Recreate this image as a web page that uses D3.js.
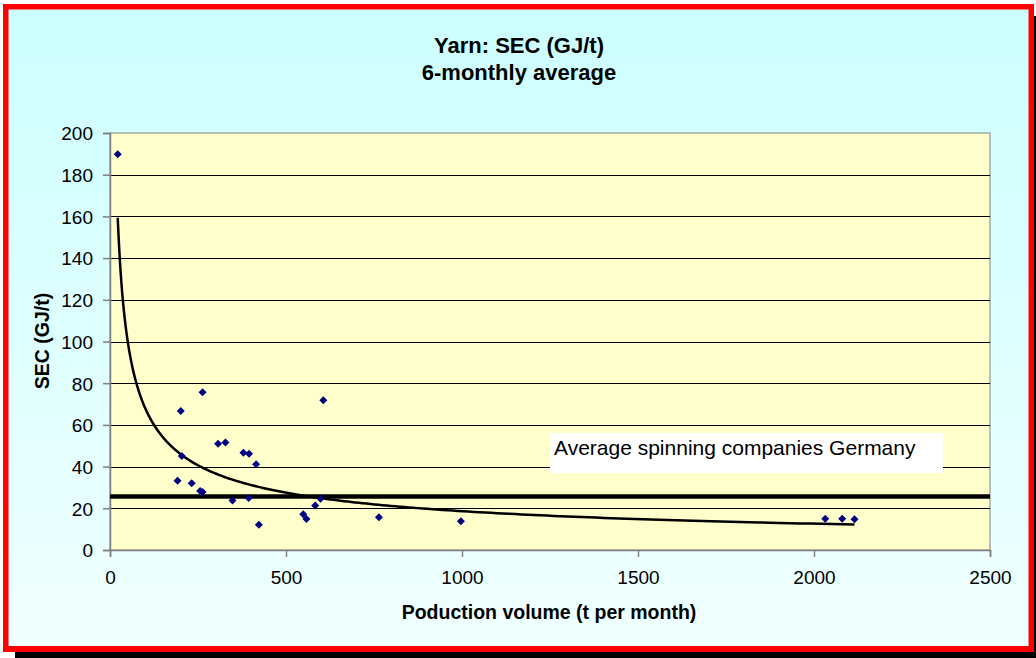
<!DOCTYPE html>
<html>
<head>
<meta charset="utf-8">
<script src="https://cdn.jsdelivr.net/npm/d3@7"></script>
<style>
html,body{margin:0;padding:0;background:#fff;}
svg{display:block;font-family:"Liberation Sans",Arial,sans-serif;}
</style>
</head>
<body>
<svg id="chart" width="1036" height="658"></svg>
<script>
// ---- data ----
const titleLines = ["Yarn: SEC (GJ/t)", "6-monthly average"];
const xAxisTitle = "Poduction volume (t per month)";
const yAxisTitle = "SEC (GJ/t)";
const legendText = "Average spinning companies Germany";
const xTicks = [0, 500, 1000, 1500, 2000, 2500];
const yTicks = [0, 20, 40, 60, 80, 100, 120, 140, 160, 180, 200];
const production = [22, 192, 201, 204, 232, 256, 263, 263, 307, 328, 348, 379, 394, 395, 415, 423, 549, 558, 583, 598, 606, 764, 997, 2032, 2080, 2115];
const sec =        [189.8, 33.2, 66.7, 45.1, 32.0, 28.3, 27.8, 75.6, 51.0, 51.5, 23.7, 46.7, 25.0, 46.2, 41.1, 12.1, 17.1, 14.9, 21.3, 24.6, 71.8, 15.7, 13.8, 15.0, 15.0, 14.7];
const germanAverage = 25.7;

// ---- layout ----
const svg = d3.select("#chart");
const W = 1036, H = 658;
const plot = {left: 110, right: 990, top: 133, bottom: 550};

const x = d3.scaleLinear().domain([0, 2500]).range([plot.left, plot.right]);
const y = d3.scaleLinear().domain([0, 200]).range([plot.bottom, plot.top]);

// frame & background
const defs = svg.append("defs");
const grad = defs.append("linearGradient").attr("id","bg").attr("x1",0).attr("y1",0).attr("x2",0).attr("y2",1);
grad.append("stop").attr("offset","0%").attr("stop-color","#CCFFFF");
grad.append("stop").attr("offset","100%").attr("stop-color","#F0FFFF");

svg.append("rect").attr("x",15).attr("y",16).attr("width",W-15).attr("height",H-16).attr("fill","#000");
svg.append("rect").attr("x",3).attr("y",4).attr("width",1031).attr("height",648).attr("fill","#FF0000");
svg.append("rect").attr("x",8.5).attr("y",9.5).attr("width",1020).attr("height",636.5).attr("fill","url(#bg)");

// plot area
svg.append("rect").attr("x",plot.left).attr("y",plot.top)
  .attr("width",plot.right-plot.left).attr("height",plot.bottom-plot.top)
  .attr("fill","#FFFFCC").attr("stroke","#808080").attr("stroke-width",1);

// gridlines
svg.append("g").selectAll("line").data(yTicks.filter(d => d > 0 && d < 200)).join("line")
  .attr("x1",plot.left).attr("x2",plot.right)
  .attr("y1",d => Math.round(y(d))+0.5).attr("y2",d => Math.round(y(d))+0.5)
  .attr("stroke","#000").attr("stroke-width",1);

// axes
const yAxis = d3.axisLeft(y).tickValues(yTicks).tickSize(7).tickPadding(10).tickFormat(d3.format("d"));
const xAxis = d3.axisBottom(x).tickValues(xTicks).tickSize(7).tickPadding(14).tickFormat(d3.format("d"));

const gy = svg.append("g").attr("transform",`translate(${plot.left},0)`).call(yAxis);
const gx = svg.append("g").attr("transform",`translate(0,${plot.bottom})`).call(xAxis);
[gx, gy].forEach(g => {
  g.select(".domain").attr("stroke","#808080").attr("stroke-width",1.5);
  g.selectAll(".tick line").attr("stroke","#808080").attr("stroke-width",1.5);
  g.selectAll(".tick text").attr("fill","#000").style("font-size","19px").style("font-family","'Liberation Sans',Arial,sans-serif");
});
gy.selectAll(".tick text").attr("dy","0.36em");

// German average line
svg.append("line")
  .attr("x1",x(0)).attr("x2",x(2500))
  .attr("y1",y(germanAverage)).attr("y2",y(germanAverage))
  .attr("stroke","#000").attr("stroke-width",4.5);

// power trendline (least squares on log-log, like a spreadsheet power trend)
const lx = production.map(Math.log), ly = sec.map(Math.log);
const mx = d3.mean(lx), my = d3.mean(ly);
const b = d3.sum(lx.map((v,i)=>(v-mx)*(ly[i]-my))) / d3.sum(lx.map(v=>(v-mx)*(v-mx)));
const a = Math.exp(my - b*mx);
const xs = d3.range(0, 301).map(i => d3.min(production) * Math.pow(d3.max(production)/d3.min(production), i/300));
svg.append("path")
  .datum(xs)
  .attr("fill","none").attr("stroke","#000").attr("stroke-width",2.5)
  .attr("d", d3.line().x(d => x(d)).y(d => y(a*Math.pow(d,b))));

// scatter points (diamonds)
svg.append("g").selectAll("path").data(production.map((p,i)=>[p, sec[i]])).join("path")
  .attr("d", d3.symbol(d3.symbolSquare, 32)())
  .attr("transform", d => `translate(${x(d[0])},${y(d[1])}) rotate(45)`)
  .attr("fill","#000080");

// legend text box
svg.append("rect").attr("x",550).attr("y",433).attr("width",393).attr("height",40).attr("fill","#fff");
svg.append("text").attr("x",554).attr("y",455).text(legendText)
  .style("font-size","21px").attr("fill","#000");

// titles
const t = svg.append("text").attr("text-anchor","middle").style("font-weight","bold").style("font-size","22px");
t.append("tspan").attr("x",519).attr("y",53).text(titleLines[0]);
t.append("tspan").attr("x",519).attr("y",80).text(titleLines[1]);

svg.append("text").attr("x",549).attr("y",619).attr("text-anchor","middle")
  .style("font-weight","bold").style("font-size","19.5px").text(xAxisTitle);

svg.append("text").attr("transform","translate(49,341) rotate(-90)").attr("text-anchor","middle")
  .style("font-weight","bold").style("font-size","19.5px").text(yAxisTitle);
</script>
</body>
</html>
